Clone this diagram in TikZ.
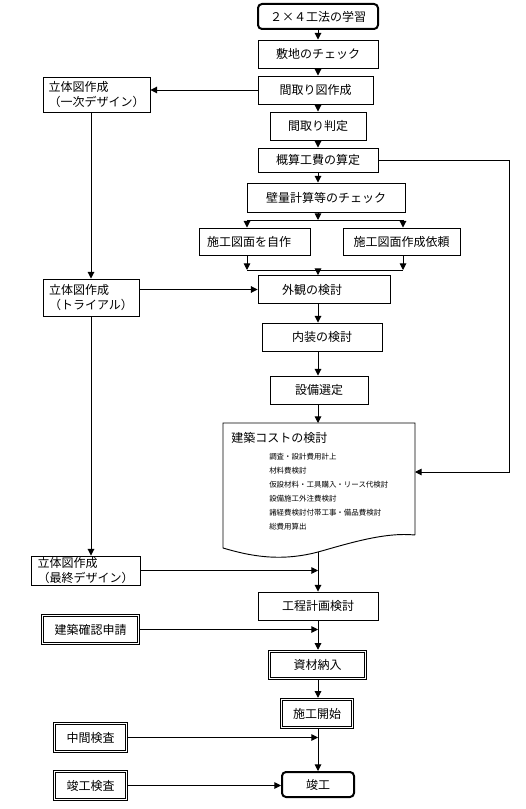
\documentclass[tikz,border=0pt]{standalone}
\usepackage{fontspec}
\newfontfamily\jpfont{Noto Sans CJK JP}
\usepackage{tikz}
\usetikzlibrary{arrows.meta, positioning}
\tikzset{
		flow box/.style={
			rectangle,
			draw=black,
			line width=0.7pt,
			align=center,
			inner sep=0pt,
			font=\jpfont\fontsize{9}{11.5}\selectfont
		},
		box size/.style 2 args={
			minimum width=#1*0.75pt,
			minimum height=#2*0.75pt
		},
		text pad/.style={
			align=left,
			text width=#1*0.75pt
		},
		side box/.style={
			flow box,
			align=left
		},
		term box/.style={
			flow box,
			rounded corners=3pt,
			line width=1.5pt
		},
		dbl box/.style={
			flow box,
			line width=0.6pt,
			double,
			double distance=1.3pt,
			outer sep=1.3pt
		},
		cost item/.style={
			anchor=west,
			inner sep=0pt,
			font=\jpfont\fontsize{5.6}{7}\selectfont
		},
		flow/.style={
			line width=0.7pt,
			-{Triangle[length=5pt,width=5pt]}
		}
	}

\begin{document}
\begin{tikzpicture}[x=0.75pt, y=-0.75pt]
	\useasboundingbox (0,0) rectangle (525,809);
	% main column
	\node (gakushu) [term box, box size={120}{25}] at (318,16.5) {２×４工法の学習};
	\node (shikichi) [flow box, box size={120}{28}] at (318,54) {敷地のチェック};
	\node (madori) [flow box, box size={115}{28}] at (315.5,90) {間取り図作成};
	\node (hantei) [flow box, box size={96}{28}] at (318,126) {間取り判定};
	\node (gaisan) [flow box, box size={120}{24}] at (318,160) {概算工費の算定};
	\node (hekiryo) [flow box, box size={158}{29}] at (326,197.5) {壁量計算等のチェック};
	\node (jisaku) [flow box, box size={111}{27}, text pad=95] at (254.5,241.5) {施工図面を自作};
	\node (irai) [flow box, box size={117}{27}] at (401.5,241.5) {施工図面作成依頼};
	\node (gaikan) [flow box, box size={132}{28}, text pad=84] at (324,289.5) {外観の検討};
	\node (naisou) [flow box, box size={120}{28}] at (322,337) {内装の検討};
	\node (setsubi) [flow box, box size={98}{28}] at (319,390) {設備選定};
	\node (koutei) [flow box, box size={120}{28}] at (318,606) {工程計画検討};
	\node (shizai) [dbl box, box size={96}{27}] at (317.5,665) {資材納入};
	\node (kaishi) [dbl box, box size={71}{28}] at (317,713.5) {施工開始};
	\node (shunko) [term box, box size={72}{25}] at (318,784.5) {竣工};

	% left column
	\node (ichiji) [side box, box size={107}{35}] at (96.5,94.5) {立体図作成\\（一次デザイン）};
	\node (tri) [side box, box size={96}{37}] at (91,297.5) {立体図作成\\（トライアル）};
	\node (saishu) [side box, box size={109}{29}] at (85.5,570.5) {立体図作成\\（最終デザイン）};
	\node (kakunin) [dbl box, box size={96}{28}] at (90.5,629.5) {建築確認申請};
	\node (chukan) [dbl box, box size={72}{28}] at (90.5,737.5) {中間検査};
	\node (shunkoken) [dbl box, box size={72}{28}] at (90.5,785.5) {竣工検査};

	% cost document
	\draw [line width=0.7pt] (415,535) -- (415,423) -- (223,423) -- (223,548)
		.. controls (250,556) and (280,562) .. (318,552)
		.. controls (350,543) and (385,532) .. (415,535);
	\coordinate (docN) at (318,423);
	\coordinate (docE) at (415,472);
	\coordinate (docS) at (318,552);
	\node (costtitle) [cost item, font=\jpfont\fontsize{9}{11}\selectfont] at (231,438) {建築コストの検討};
	\foreach \item [count=\i] in {調査・設計費用計上, 材料費検討, 仮設材料・工具購入・リース代検討,
		設備施工外注費検討, 諸経費検討付帯工事・備品費検討, 総費用算出}
		\node (cost\i) [cost item] at (269,443+14*\i) {\item};

	% split and join points
	\coordinate (split) at (318,220);
	\coordinate (splitL) at (247,220);
	\coordinate (splitR) at (403,220);
	\coordinate (join) at (318,270);
	\coordinate (joinL) at (247,270);
	\coordinate (joinR) at (403,270);
	\coordinate (loopc) at (509,472);

	% connectors
	\draw [flow] (gakushu.south) -- (shikichi.north);
	\draw [flow] (shikichi.south) -- (shikichi.south |- madori.north);
	\draw [flow] (hantei.north |- madori.south) -- (hantei.north);
	\draw [flow] (hantei.south) -- (gaisan.north);
	\draw [flow] (gaisan.south) -- (gaisan.south |- hekiryo.north);
	\draw [flow] (split |- hekiryo.south) -- (split);
	\draw [line width=0.7pt] (splitL) -- (splitR);
	\draw [flow] (splitL) -- (splitL |- jisaku.north);
	\draw [flow] (splitR) -- (splitR |- irai.north);
	\draw [flow] (joinL |- jisaku.south) -- (joinL);
	\draw [flow] (joinR |- irai.south) -- (joinR);
	\draw [line width=0.7pt] (joinL) -- (joinR);
	\draw [flow] (join) -- (join |- gaikan.north);
	\draw [flow] (join |- gaikan.south) -- (join |- naisou.north);
	\draw [flow] (join |- naisou.south) -- (join |- setsubi.north);
	\draw [flow] (docN |- setsubi.south) -- (docN);
	\draw [flow] (gaisan.east) -| (loopc) -- (docE);
	\draw [flow] (docS) -- (koutei.north);
	\draw [flow] (koutei.south) -- (koutei.south |- shizai.north);
	\draw [flow] (koutei.south |- shizai.south) -- (koutei.south |- kaishi.north);
	\draw [flow] (koutei.south |- kaishi.south) -- (shunko.north);

	\draw [flow] (madori.west) -- (madori.west -| ichiji.east);
	\draw [flow] (tri.north |- ichiji.south) -- (tri.north);
	\draw [flow] (tri.east |- gaikan.west) -- (gaikan.west);
	\draw [flow] (tri.south) -- (tri.south |- saishu.north);
	\draw [flow] (saishu.east) -- (saishu.east -| docS);
	\draw [flow] (kakunin.east) -- (kakunin.east -| koutei.south);
	\draw [flow] (chukan.east) -- (chukan.east -| koutei.south);
	\draw [flow] (shunkoken.east) -- (shunkoken.east -| shunko.west);
\end{tikzpicture}
\end{document}
